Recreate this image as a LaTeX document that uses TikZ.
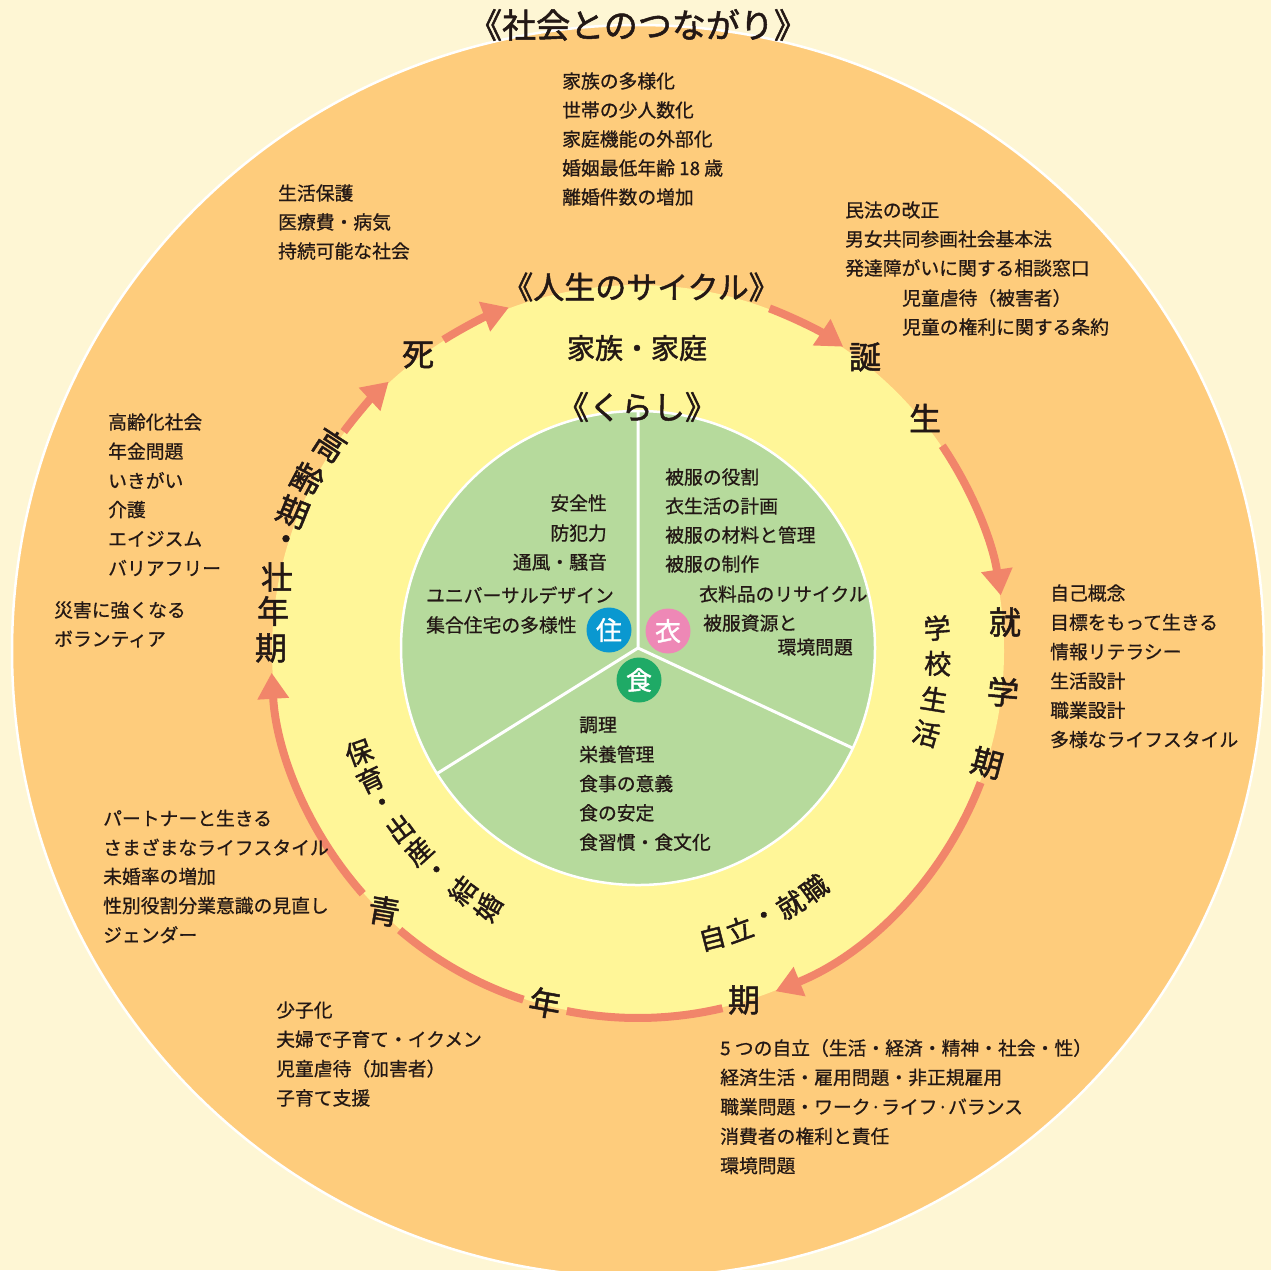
\documentclass[tikz,border=0pt]{standalone}
\usepackage{fontspec}
\setmainfont{Noto Sans CJK JP}[FakeBold=0.7]
\newfontfamily\bigf{Noto Sans CJK JP}[FakeBold=1.5]
\usetikzlibrary{arrows.meta}
\definecolor{bg}{HTML}{FEF6D4}
\definecolor{orng}{HTML}{FECC7C}
\definecolor{yel}{HTML}{FFF698}
\definecolor{grn}{HTML}{B6DA9C}
\definecolor{arr}{HTML}{F1856A}
\definecolor{ink}{HTML}{231815}
\definecolor{iblue}{HTML}{0A98D0}
\definecolor{ipink}{HTML}{EE88B6}
\definecolor{igreen}{HTML}{1FAA66}
\begin{document}
\begin{tikzpicture}[x=1pt,y=-1pt,
  every node/.style={text=ink, inner sep=0pt},
  lst/.style={anchor=west, font=\fontsize{18.8}{22}\selectfont},
  lstr/.style={anchor=east, font=\fontsize{18.8}{22}\selectfont},
  big/.style={font=\bigf\fontsize{32}{34}\selectfont},
  mid/.style={font=\bigf\fontsize{27}{30}\selectfont},
  ttl/.style={font=\bigf\fontsize{#1}{#1}\selectfont},
  icon/.style={circle, minimum size=45, text=white, font=\bigf\fontsize{26}{28}\selectfont},
  cyc/.style={draw=arr, line width=8},
  cyca/.style={cyc, -{Triangle[length=26pt,width=30pt]}}]
\useasboundingbox (0,0) rectangle (1271,1270);
\clip (0,0) rectangle (1271,1270);
\fill[bg] (0,0) rectangle (1271,1270);
\coordinate (C) at (638,651);
\coordinate (G) at (638,648);
\fill[orng, draw=white, line width=2.5] (C) circle[radius=626];
\fill[yel] (C) circle[radius=366];
\fill[grn, draw=white, line width=2.5] (G) circle[radius=237];
\path (G) ++(-90:237) coordinate (Gt) (G) ++(148:237) coordinate (Gl) (G) ++(25:237) coordinate (Gr);
\draw[white, line width=3] (G) -- (Gt) (G) -- (Gl) (G) -- (Gr);

% life-cycle arcs
\path (C) ++(-122:367) coordinate (a1) (C) ++(-69:367) coordinate (a2)
      (C) ++(-34:367) coordinate (a3) (C) ++(21:367) coordinate (a4)
      (C) ++(76.7:367) coordinate (a5) (C) ++(108.2:367) coordinate (a6)
      (C) ++(138.6:367) coordinate (a7) (C) ++(-143.3:367) coordinate (a8);
\draw[cyca] (a1) arc[start angle=-122, end angle=-110.6, radius=367];
\draw[cyca] (a2) arc[start angle=-69, end angle=-56, radius=367];
\draw[cyca] (a3) arc[start angle=-34, end angle=-8.7, radius=367];
\draw[cyca] (a4) arc[start angle=21, end angle=68, radius=367];
\draw[cyc] (a5) arc[start angle=76.7, end angle=101.2, radius=367];
\draw[cyc] (a6) arc[start angle=108.2, end angle=130.5, radius=367];
\draw[cyca] (a7) arc[start angle=138.6, end angle=176.6, radius=367];
\draw[cyca] (a8) arc[start angle=-143.3, end angle=-132.8, radius=367];

% titles
\node[ttl=34] (t1) at (638,25) {《社会とのつながり》};
\node[ttl=31] (t2) at (641,287) {《人生のサイクル》};
\node[ttl=28] (t3) at (637,348) {家族・家庭};
\node[ttl=32] (t4) at (637,407) {《くらし》};

% life stages
\node[big] (s1) at (418,355) {死};
\node[big] (s2) at (865,357) {誕};
\node[big] (s3) at (925,418) {生};
\node[big] (s4) at (1005,622) {就};
\node[big, rotate=-5] (s5) at (1003,692) {学};
\node[big, rotate=-15] (s6) at (987,763) {期};
\node[big] (s7) at (744,1000) {期};
\node[big, rotate=-10] (s8) at (545,1003) {年};
\node[big, rotate=-10] (s9) at (384,911) {青};
\node[big, rotate=-33] (k1) at (330,445) {高};
\node[big, rotate=-28] (k2) at (307,479) {齢};
\node[big, rotate=-22] (k3) at (293,512) {期};
\node[big] (k4) at (286,543) {・};
\node[big] (k5) at (277,577) {壮};
\node[big] (k6) at (273,611) {年};
\node[big] (k7) at (271,648) {期};

% inner ring labels
\foreach \ch/\a [count=\i] in {保/200,育/205.7,・/211.2,出/216.7,産/222.4,・/228,結/233.8,婚/239.7}
  \path (C) ++({-\a}:297) node[mid, rotate=\a-180] (h\i) {\ch};
\foreach \ch/\a [count=\i] in {自/-75.5,立/-70,・/-64.5,就/-59,職/-53.5}
  \path (C) ++({-\a}:296) node[mid, rotate=\a+90] (j\i) {\ch};
\foreach \ch/\a [count=\i] in {学/4.4,校/-2.4,生/-9.2,活/-16}
  \path (C) ++({-\a}:300) node[mid, rotate=\a] (g\i) {\ch};

% society lists
\foreach \t [count=\i] in {家族の多様化,世帯の少人数化,家庭機能の外部化,婚姻最低年齢 18 歳,離婚件数の増加}
  \node[lst] (la\i) at (562,{81+29*(\i-1)}) {\t};
\foreach \t [count=\i] in {生活保護,医療費・病気,持続可能な社会}
  \node[lst] (lb\i) at (278,{193+29*(\i-1)}) {\t};
\foreach \t [count=\i] in {民法の改正,男女共同参画社会基本法,発達障がいに関する相談窓口}
  \node[lst] (lc\i) at (845,{210+29*(\i-1)}) {\t};
\node[lst] (lc4) at (902,298) {児童虐待（被害者）};
\node[lst] (lc5) at (902,327) {児童の権利に関する条約};
\foreach \t [count=\i] in {高齢化社会,年金問題,いきがい,介護,エイジスム,バリアフリー}
  \node[lst] (ld\i) at (108,{422+29.2*(\i-1)}) {\t};
\node[lst] (le1) at (54,610) {災害に強くなる};
\node[lst] (le2) at (54,639) {ボランティア};
\foreach \t [count=\i] in {自己概念,目標をもって生きる,情報リテラシー,生活設計,職業設計,多様なライフスタイル}
  \node[lst] (lf\i) at (1050,{593+29.3*(\i-1)}) {\t};
\foreach \t [count=\i] in {パートナーと生きる,さまざまなライフスタイル,未婚率の増加,性別役割分業意識の見直し,ジェンダー}
  \node[lst] (lg\i) at (103,{818+29.2*(\i-1)}) {\t};
\foreach \t [count=\i] in {少子化,夫婦で子育て・イクメン,児童虐待（加害者）,子育て支援}
  \node[lst] (lh\i) at (276,{1010+29.3*(\i-1)}) {\t};
\foreach \t [count=\i] in {5 つの自立（生活・経済・精神・社会・性）,経済生活・雇用問題・非正規雇用,職業問題・ワーク·ライフ·バランス,消費者の権利と責任,環境問題}
  \node[lst] (li\i) at (720,{1048+29.4*(\i-1)}) {\t};

% kurashi sectors
\node[lstr] (z1) at (607,503) {安全性};
\node[lstr] (z2) at (607,533) {防犯力};
\node[lstr] (z3) at (607,562) {通風・騒音};
\node[lst] (z4) at (426,595) {ユニバーサルデザイン};
\node[lst] (z5) at (426,625) {集合住宅の多様性};
\foreach \t [count=\i] in {被服の役割,衣生活の計画,被服の材料と管理,被服の制作}
  \node[lst] (i\i) at (665,{477+29*(\i-1)}) {\t};
\node[lst] (i5) at (699,594) {衣料品のリサイクル};
\node[lst] (i6) at (703,623) {被服資源と};
\node[lstr] (i7) at (853,647) {環境問題};
\foreach \t [count=\i] in {調理,栄養管理,食事の意義,食の安定,食習慣・食文化}
  \node[lst] (f\i) at (579,{725+29.3*(\i-1)}) {\t};

% icons
\node[icon, fill=iblue] (zu) at (609,630) {住};
\node[icon, fill=ipink] (ko) at (668,631) {衣};
\node[icon, fill=igreen] (sh) at (639,680) {食};
\end{tikzpicture}
\end{document}
